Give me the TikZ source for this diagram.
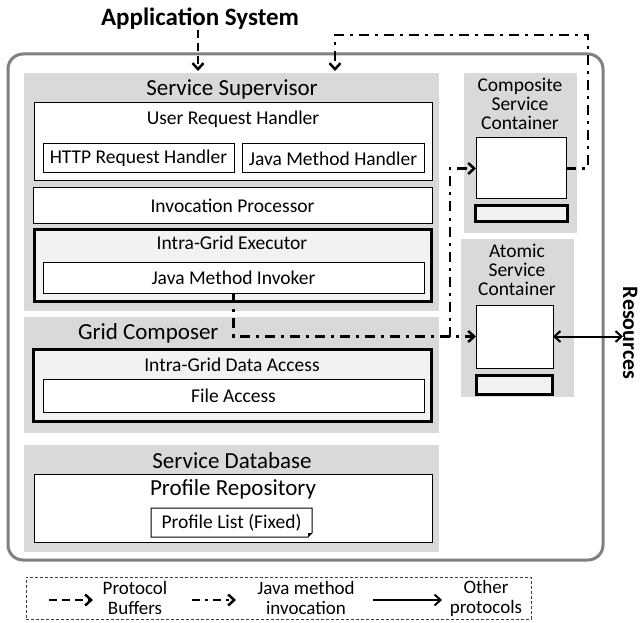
\documentclass[tikz,border=0pt]{standalone}
\usepackage{fontspec}
\setmainfont{Carlito}
\usetikzlibrary{arrows.meta}
\definecolor{gfill}{HTML}{D9D9D9}
\definecolor{lfill}{HTML}{F2F2F2}
\definecolor{ogray}{HTML}{808080}
\begin{document}
\begin{tikzpicture}[x=1pt,y=-1pt,
  every node/.style={inner sep=0pt, outer sep=0pt},
  region/.style={fill=gfill, draw=none, anchor=north west},
  wbox/.style={fill=white, draw=black, line width=1pt, anchor=north west, font=\fontsize{19.5}{22}\selectfont},
  tbox/.style={fill=lfill, draw=black, line width=3pt, anchor=north west},
  lbl/.style={font=\fontsize{19.5}{22}\selectfont},
  ttl/.style={font=\fontsize{23}{26}\selectfont},
  ctxt/.style={font=\fontsize{19.5}{19}\selectfont, align=center},
  legtxt/.style={font=\fontsize{19}{20}\selectfont, align=center},
  tip/.style={-{Straight Barb[length=6pt,width=11pt]}},
  pbline/.style={line width=2.5pt, dash pattern=on 8pt off 5pt, tip},
  jmline/.style={line width=2.5pt, dash pattern=on 10pt off 6pt on 3pt off 6pt, tip},
  jmleg/.style={line width=2.5pt, dash pattern=on 8pt off 5pt on 3pt off 5pt, tip},
  opline/.style={line width=2pt, tip}
]
\useasboundingbox (0,0) rectangle (643,623);

% outer system frame
\node[draw=ogray, line width=3pt, rounded corners=15pt, minimum width=595, minimum height=506, anchor=north west] (sys) at (8,54) {};

\node[font=\bfseries\fontsize{25}{28}\selectfont] (app) at (200,19) {Application System};

% Service Supervisor
\node[region, minimum width=415, minimum height=238] (ss) at (24,73) {};
\node[ttl] (sst) at (232,89) {Service Supervisor};
\node[wbox, minimum width=398, minimum height=78] (urh) at (34,103) {};
\node[lbl] (urht) at (233,119) {User Request Handler};
\node[wbox, minimum width=191, minimum height=29] (http) at (43,144) {HTTP Request Handler};
\node[wbox, minimum width=182, minimum height=29] (jmh) at (242,144) {Java Method Handler};
\node[wbox, minimum width=399, minimum height=35] (ip) at (33,188) {Invocation Processor};
\node[tbox, minimum width=397, minimum height=72] (ige) at (34.5,229.5) {};
\node[lbl] (iget) at (232,243) {Intra-Grid Executor};
\node[wbox, minimum width=381, minimum height=31] (jmi) at (43,262) {Java Method Invoker};

% Grid Composer
\node[region, minimum width=415, minimum height=116] (gc) at (24,317) {};
\node[ttl, anchor=west] (gct) at (78,333) {Grid Composer};
\node[tbox, minimum width=398, minimum height=72] (igda) at (33.5,349.5) {};
\node[lbl] (igdat) at (232,365) {Intra-Grid Data Access};
\node[wbox, minimum width=381, minimum height=33] (fa) at (43,379) {File Access};

% Service Database
\node[region, minimum width=415, minimum height=107] (sd) at (24,445) {};
\node[ttl] (sdt) at (232,461) {Service Database};
\node[wbox, minimum width=398, minimum height=68] (pr) at (34,474) {};
\node[ttl] (prt) at (233,489) {Profile Repository};
\node[anchor=north west, minimum width=161, minimum height=29] (pl) at (151,508) {};
\fill[white] (pl.north west) -- (pl.north east) -- ([yshift=4pt]pl.south east) -- ([xshift=-4pt]pl.south east) -- (pl.south west) -- cycle;
\fill[black] ([yshift=4pt]pl.south east) -- ([xshift=-4pt]pl.south east) -- ([xshift=-4pt,yshift=4pt]pl.south east) -- cycle;
\draw[line width=1pt] (pl.north west) -- (pl.north east) -- ([yshift=4pt]pl.south east) -- ([xshift=-4pt]pl.south east) -- (pl.south west) -- cycle;
\node[lbl] (plt) at (pl.center) {Profile List (Fixed)};

% Composite Service Container
\node[region, minimum width=113, minimum height=160] (csc) at (464,73) {};
\node[ctxt] (csct) at (520,104) {Composite\\Service\\Container};
\node[wbox, minimum width=90, minimum height=61] (cbox) at (476,138) {};
\node[tbox, minimum width=92, minimum height=16] (cbar) at (475.5,205.5) {};

% Atomic Service Container
\node[region, minimum width=113, minimum height=158] (asc) at (461,239) {};
\node[ctxt] (asct) at (517,270) {Atomic\\Service\\Container};
\node[wbox, minimum width=77, minimum height=63] (abox) at (476,305) {};
\node[tbox, minimum width=76, minimum height=19] (abar) at (476.5,375.5) {};

% Resources
\node[font=\bfseries\fontsize{22}{24}\selectfont, rotate=-90, anchor=south] (res) at (623,333) {Resources};

% connectors
\coordinate (a1) at (198,0);
\draw[pbline, shorten >=2pt] (app.south -| a1) -- (ss.north -| a1);
\coordinate (r1) at (588,35);
\coordinate (t2) at (335,73);
\draw[jmline, shorten >=2pt] (cbox.east) -| (r1) -| (t2);
\draw[jmline] (jmi.south) |- (abox.west);
\coordinate (jn) at (450,0);
\draw[jmline] (jn |- abox.west) |- (cbox.west);
\draw[line width=2pt, {Straight Barb[length=6pt,width=11pt]}-{Straight Barb[length=6pt,width=11pt]}] (abox.east) -- (abox.east -| res.south);

% legend
\node[draw=black!75, line width=0.8pt, dash pattern=on 3pt off 2pt, minimum width=505, minimum height=42, anchor=north west] (leg) at (26,577) {};
\coordinate (l1s) at (49,600); \coordinate (l1e) at (93,600);
\draw[pbline] (l1s) -- (l1e);
\node[legtxt] (l1t) at (135,598) {Protocol\\Buffers};
\coordinate (l2s) at (192,600); \coordinate (l2e) at (236,600);
\draw[jmleg] (l2s) -- (l2e);
\node[legtxt] (l2t) at (306,598) {Java method\\invocation};
\coordinate (l3s) at (373,600); \coordinate (l3e) at (442,600);
\draw[opline] (l3s) -- (l3e);
\node[legtxt] (l3t) at (486,598) {Other\\protocols};
\end{tikzpicture}
\end{document}
